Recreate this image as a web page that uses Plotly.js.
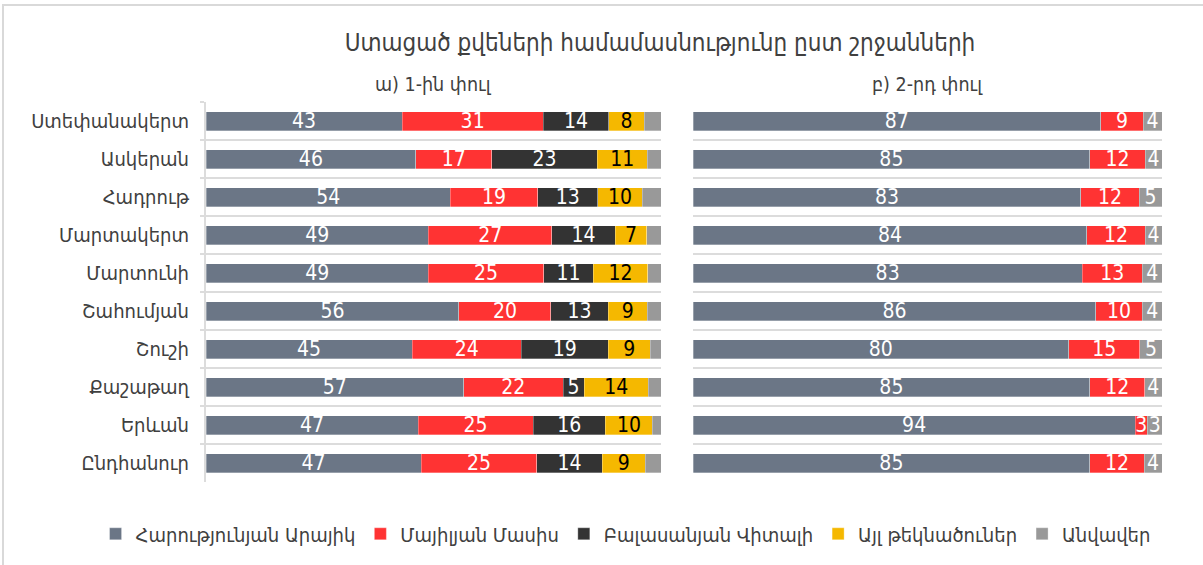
<!DOCTYPE html>
<html>
<head>
<meta charset="utf-8">
<script src="https://cdn.plot.ly/plotly-3.0.1.min.js"></script>
<style>html,body{margin:0;padding:0;background:#fff;}#chart{width:1203px;height:565px;}</style>
</head>
<body>
<div id="chart"></div>
<script>
const regions = ["Ստեփանակերտ","Ասկերան","Հադրութ","Մարտակերտ","Մարտունի","Շահումյան","Շուշի","Քաշաթաղ","Երևան","Ընդհանուր"];
const seriesNames = ["Հարությունյան Արայիկ","Մայիլյան Մասիս","Բալասանյան Վիտալի","Այլ թեկնածուներ","Անվավեր"];
// Round 1 (percent)
const r1Harutyunyan = [43.1,46.1,53.7,48.9,48.9,55.6,45.3,56.6,46.6,47.3];
const r1Mayilyan    = [31.0,16.7,19.2,27.1,25.3,20.2,24.0,21.9,25.3,25.4];
const r1Balasanyan  = [14.4,23.2,13.2,13.9,10.9,12.6,19.1,4.6,15.9,14.4];
const r1Other       = [7.8,11.0,9.8,7.0,12.0,8.6,9.2,14.1,10.3,9.4];
const r1Invalid     = [3.7,3.0,4.1,3.1,2.9,3.0,2.4,2.8,1.9,3.5];
// Round 2 (percent)
const r2Harutyunyan = [86.9,84.6,82.7,84.0,83.0,85.9,80.1,84.6,94.3,84.6];
const r2Mayilyan    = [9.1,11.8,12.4,12.4,12.8,9.9,15.2,11.7,2.6,11.6];
const r2Invalid     = [4.0,3.6,4.9,3.6,4.2,4.2,4.7,3.7,3.1,3.8];

const colors = ["#6b7686","#ff3333","#333333","#f5b800","#999999"];
const textColors = ["#ffffff","#ffffff","#ffffff","#000000","#ffffff"];
const FONT = "DejaVu Sans Condensed, DejaVu Sans, sans-serif";

function bar(vals, idx, xa, ya, showText, showLegend) {
  return {
    type: "bar", orientation: "h", name: seriesNames[idx],
    x: vals, y: regions, xaxis: xa, yaxis: ya,
    marker: {color: colors[idx], line: {color: "rgba(255,255,255,0.6)", width: 0.5}},
    text: showText ? vals : undefined,
    texttemplate: showText ? "%{x:.0f}" : undefined,
    textposition: showText ? "inside" : "none",
    insidetextanchor: "middle",
    textangle: 0,
    textfont: {color: textColors[idx], size: 21, family: FONT},
    showlegend: showLegend, legendgroup: "g" + idx,
    hoverinfo: "x+name"
  };
}

const data = [
  bar(r1Harutyunyan, 0, "x", "y", true, true),
  bar(r1Mayilyan, 1, "x", "y", true, true),
  bar(r1Balasanyan, 2, "x", "y", true, true),
  bar(r1Other, 3, "x", "y", true, true),
  bar(r1Invalid, 4, "x", "y", false, true),
  bar(r2Harutyunyan, 0, "x2", "y2", true, false),
  bar(r2Mayilyan, 1, "x2", "y2", true, false),
  bar(r2Invalid, 4, "x2", "y2", true, false)
];

const W = 1203;
const layout = {
  width: 1203, height: 565,
  margin: {l: 0, r: 0, t: 102, b: 83},
  paper_bgcolor: "#ffffff", plot_bgcolor: "#ffffff",
  font: {family: FONT, color: "#404040"},
  barmode: "stack", bargap: 0.5,
  uniformtext: {mode: "show", minsize: 21},
  title: {text: "Ստացած քվեների համամասնությունը ըստ շրջանների", x: 660 / W, xanchor: "center", y: 0.925, yanchor: "middle", font: {size: 24, color: "#404040", family: FONT}},
  xaxis: {domain: [206 / W, 661 / W], range: [0, 100], showticklabels: false, showgrid: false, zeroline: false, fixedrange: true},
  xaxis2: {domain: [693 / W, 1162 / W], range: [0, 100], showticklabels: false, showgrid: false, zeroline: false, anchor: "y2", fixedrange: true},
  yaxis: {type: "category", autorange: "reversed", tickson: "boundaries", showgrid: true, gridcolor: "#dcdcdc", gridwidth: 2,
          showline: true, linecolor: "#dcdcdc", linewidth: 2, ticks: "outside", ticklen: 4, tickcolor: "#dcdcdc", tickwidth: 2,
          tickfont: {size: 20, color: "#404040", family: FONT}, ticklabelstandoff: 11, anchor: "x"},
  yaxis2: {type: "category", autorange: "reversed", tickson: "boundaries", showgrid: true, gridcolor: "#dcdcdc", gridwidth: 2,
           showline: false, ticks: "", showticklabels: false, anchor: "x2", matches: "y"},
  legend: {orientation: "h", x: 0.52, xanchor: "center", y: -0.085, yanchor: "top", font: {size: 20, color: "#404040", family: FONT}, traceorder: "normal", itemwidth: 30},
  annotations: [
    {text: "ա) 1-ին փուլ", xref: "x domain", yref: "paper", x: 0.5, y: 1, yanchor: "bottom", yshift: 4, showarrow: false, font: {size: 19.5, color: "#404040", family: FONT}},
    {text: "բ) 2-րդ փուլ", xref: "x2 domain", yref: "paper", x: 0.5, y: 1, yanchor: "bottom", yshift: 4, showarrow: false, font: {size: 19.5, color: "#404040", family: FONT}}
  ],
  shapes: [
    {type: "rect", xref: "paper", yref: "paper", x0: 3 / W, x1: 1.01, y0: (482 - 580) / 380, y1: (482 - 5) / 380, line: {color: "#d9d9d9", width: 2}, fillcolor: "rgba(0,0,0,0)", layer: "below"}
  ]
};

Plotly.newPlot("chart", data, layout, {displayModeBar: false, responsive: false});
</script>
</body>
</html>
